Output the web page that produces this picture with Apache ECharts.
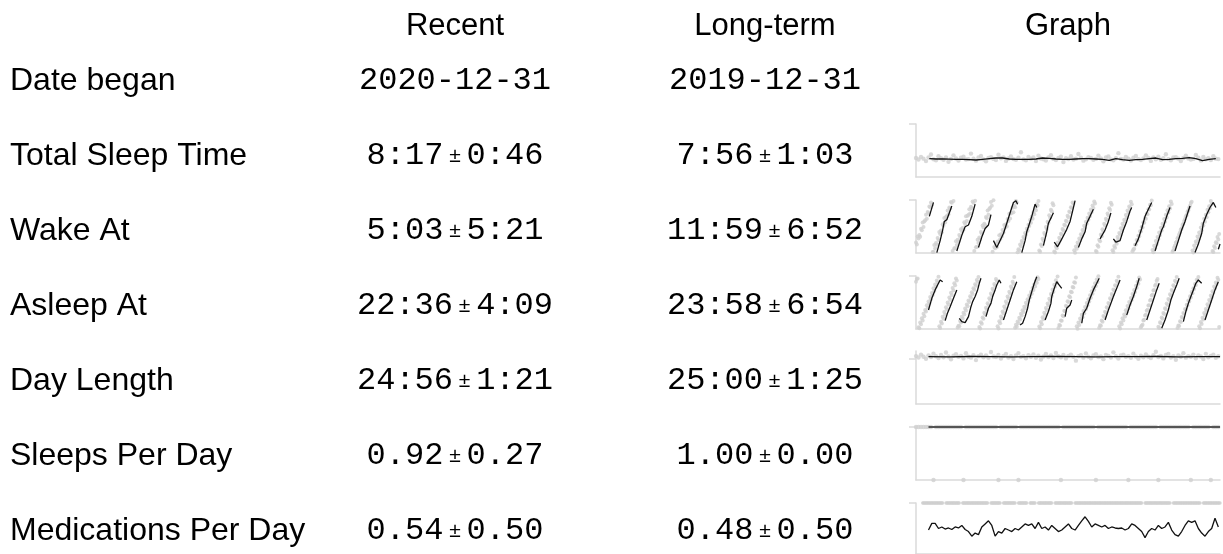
<!DOCTYPE html>
<html>
<head>
<meta charset="utf-8">
<title>Sleep summary</title>
<script src="https://cdn.jsdelivr.net/npm/echarts@6/dist/echarts.min.js"></script>
<style>
  html, body { margin: 0; padding: 0; background: #fff; }
  #chart { width: 1223px; height: 554px; }
</style>
</head>
<body>
<div id="chart"></div>
<script>
// table text
const columnTitles = ['Recent', 'Long-term', 'Graph'];
const rowLabels = ['Date began', 'Total Sleep Time', 'Wake At', 'Asleep At', 'Day Length', 'Sleeps Per Day', 'Medications Per Day'];
const recentMean = ['2020-12-31', '8:17', '5:03', '22:36', '24:56', '0.92', '0.54'];
const recentSpread = [null, '0:46', '5:21', '4:09', '1:21', '0.27', '0.50'];
const longMean = ['2019-12-31', '7:56', '11:59', '23:58', '25:00', '1.00', '0.48'];
const longSpread = [null, '1:03', '6:52', '6:54', '1:25', '0.00', '0.50'];

// sparkline data, x = day of the year shown (0..365)
const dayCount = 365;
const dotStep = 3; // sleep time / day length / sleeps: one dot every 3 days

const sleepHours = [
  8.6, 7.9, 9.1, 8.3, 7.2, 8.8, 10.2, 8.0, 7.6, 9.4,
  8.5, 7.8, 8.9, 6.9, 8.2, 9.8, 8.4, 7.5, 8.7, 9.2,
  7.9, 8.1, 10.6, 8.3, 7.4, 8.8, 9.5, 8.0, 7.1, 8.6,
  9.0, 8.2, 7.7, 10.1, 8.5, 8.9, 7.3, 8.4, 9.3, 8.1,
  7.8, 8.7, 11.2, 8.0, 7.6, 9.1, 8.3, 8.8, 7.2, 9.6,
  8.4, 8.0, 7.5, 8.9, 9.9, 8.2, 7.7, 8.6, 9.2, 6.8,
  8.5, 8.1, 9.4, 7.9, 8.3, 10.4, 8.7, 7.4, 8.0, 9.0,
  8.6, 7.8, 8.2, 9.7, 8.4, 7.1, 8.8, 9.3, 8.0, 7.6,
  8.5, 10.8, 8.2, 7.9, 9.1, 8.3, 7.5, 8.7, 9.5, 8.1,
  7.7, 8.4, 9.8, 8.6, 7.3, 8.9, 8.0, 9.2, 7.8, 8.5,
  10.3, 8.1, 7.6, 8.8, 9.0, 8.3, 7.2, 8.6, 9.6, 8.4,
  7.9, 8.2, 10.0, 8.7, 7.5, 9.1, 8.0, 8.5, 7.7, 9.4,
  8.3, 8.1
];
const sleepTrendStart = 16, sleepTrendStep = 8;
const sleepTrend = [
  8.3, 8.15, 8.15, 8.08, 8.0, 8.0, 7.85, 7.7, 8.0, 8.3, 8.6,
  8.6, 8.15, 8.0, 8.0, 8.0, 8.15, 8.6, 8.45, 8.15, 8.0, 8.0,
  8.15, 8.3, 8.3, 8.15, 8.0, 7.55, 8.3, 7.85, 7.55, 7.85, 8.0,
  8.3, 8.6, 7.85, 8.0, 8.3, 8.45, 8.75, 8.3, 7.4, 8.0, 8.3
];

// wake time, one value per day (day 0..364)
const wakeHours = [
  4.8, 3.9, 7.5, 6.6, 8.2, 7.4, 11.0, 10.3, 13.8, 11.8, 14.3, 14.8, 17.3, 15.5, 18.6, 18.1, 21.1, 20.7, 22.9, 21.6,
  0.4, 0.4, 3.6, 2.0, 4.5, 3.7, 6.8, 5.9, 9.5, 8.6, 10.2, 9.4, 13.0, 12.3, 15.8, 13.8, 16.3, 16.8, 19.3, 17.5, 20.6, 20.1, 23.1, 22.7,
  0.9, 23.5, 2.2, 2.2, 5.3, 3.6, 6.0, 5.2, 8.2, 7.2, 10.7, 9.8, 11.3, 10.4, 13.9, 13.1, 16.6, 14.5, 16.9, 17.3, 19.8, 17.9, 20.9, 20.3, 23.3, 22.8,
  0.9, 23.7, 2.6, 2.7, 6.0, 4.5, 7.0, 6.3, 9.5, 8.7, 12.4, 11.6, 13.3, 12.6, 16.3, 15.7, 19.3, 17.3, 19.9, 20.5, 23.1, 21.4,
  0.6, 23.9, 2.7, 2.1, 4.1, 2.6, 5.2, 5.0, 8.0, 6.2, 8.5, 7.5, 10.4, 9.3, 12.7, 11.6, 13.0, 12.0, 15.4, 14.5, 17.8, 15.6, 17.9, 18.2, 20.5, 18.5, 21.4, 20.7, 23.5, 22.9,
  0.3, 1.7, 1.2, 3.9, 3.1, 5.4, 4.6, 7.3, 6.5, 9.1, 8.4, 11.0, 10.1, 12.8, 12.2, 14.9, 13.7, 16.4, 15.5, 18.3, 17.6, 20.2, 19.4, 22.1, 21.5, 23.6,
  1.1, 0.6, 3.9, 3.2, 6.4, 5.5, 9.1, 8.2, 11.8, 10.9, 14.2, 13.6, 17.1, 16.0, 19.6, 18.9, 22.5, 21.6,
  0.7, 0.2, 2.9, 2.1, 4.8, 4.3, 6.9, 6.1, 8.7, 8.4, 10.9, 10.2, 12.8, 12.5, 14.6, 14.3, 16.9, 16.2, 18.8, 18.5, 20.7, 20.4, 22.9, 22.3,
  1.2, 0.1, 2.9, 1.9, 4.8, 3.8, 6.6, 5.7, 8.5, 7.6, 10.4, 9.5, 12.3, 11.4, 14.1, 13.2, 16.0, 15.1, 17.9, 16.8, 19.7, 18.6, 21.5, 20.4, 23.3, 22.4,
  0.9, 0.5, 3.5, 2.8, 6.0, 5.3, 8.4, 7.6, 10.8, 9.9, 13.2, 12.4, 15.5, 14.8, 17.9, 17.1, 20.3, 19.5, 22.7, 21.9,
  1.3, 0.4, 3.2, 2.4, 5.1, 4.2, 7.3, 6.2, 9.1, 8.4, 11.2, 10.1, 13.3, 12.2, 15.1, 14.3, 17.2, 16.1, 19.3, 18.2, 21.1, 20.4, 23.2, 22.1,
  0.8, 1.6, 1.9, 3.7, 3.8, 5.9, 5.7, 7.8, 7.6, 9.9, 9.7, 11.8, 11.6, 13.9, 13.7, 15.8, 15.5, 17.9, 17.6, 19.8, 19.7, 21.9, 21.6, 23.8,
  1.4, 0.3, 3.3, 2.2, 5.4, 4.1, 7.2, 6.3, 9.3, 8.1, 11.4, 10.2, 13.2, 12.1, 15.4, 14.2, 17.3, 16.1, 19.4, 18.3, 21.2, 20.1, 23.3, 22.2,
  0.6, 1.2, 2.5, 3.4, 4.6, 5.2, 6.7, 7.3, 8.5, 9.4, 10.6, 11.2, 12.7, 13.3, 14.5, 15.4, 16.6, 17.2, 18.7, 19.3, 20.5, 21.4, 22.6, 23.2,
  1.1, 0.2, 3.4, 2.1, 5.2, 4.4, 7.5, 6.2, 9.3, 8.1, 11.6, 10.3, 13.2, 12.4, 15.5, 14.1, 17.3, 16.2, 19.6, 18.4, 21.2, 20.3, 23.5, 22.1,
  0.9, 0.4, 3.1, 2.3, 4.9, 4.4, 7.2, 6.1, 8.6
];
// rolling mean of wake time, one list of [day, hour] per unwrapped stretch
const wakeTrend = [
  [[16, 16.6], [21, 22.9]],
  [[25, 0.2], [29, 5.6], [32, 10.4], [34, 14.3], [37, 15.1], [43, 21.3]],
  [[49, 0.9], [55, 8.0], [59, 11.9], [63, 12.7], [67, 16.6], [71, 22.1]],
  [[75, 2.5], [79, 7.2], [83, 11.1], [87, 12.7], [90, 17.4]],
  [[93, 5.6], [97, 2.5], [105, 8.8], [109, 13.5], [113, 18.2], [117, 22.9], [120, 23.7], [122, 22.1]],
  [[127, 0.2], [131, 5.6], [133, 9.6], [135, 11.9], [139, 16.6], [143, 22.1], [145, 20.6]],
  [[153, 3.3], [157, 9.6], [159, 13.5], [163, 16.6], [165, 18.2]],
  [[166, 4.9], [170, 2.8], [174, 5.6], [178, 8.5], [181, 10.7], [185, 14.3], [188, 19.0], [191, 23.7]],
  [[195, 2.5], [199, 6.4], [203, 9.6], [205, 13.5], [209, 16.6], [213, 19.8]],
  [[221, 6.4], [227, 10.4], [231, 14.3], [234, 18.2]],
  [[237, 6.4], [240, 4.9], [245, 5.6], [249, 10.4], [253, 14.3], [257, 19.0], [259, 20.6]],
  [[263, 3.3], [267, 6.4], [271, 11.1], [275, 16.6], [279, 19.8], [283, 22.9]],
  [[287, 0.9], [291, 5.6], [295, 10.4], [297, 11.9], [301, 16.6], [305, 20.6]],
  [[311, 0.9], [315, 5.6], [319, 10.4], [323, 14.3], [327, 19.0], [329, 21.3]],
  [[335, 0.2], [339, 4.1], [343, 8.8], [345, 13.5], [349, 17.4], [353, 20.6], [357, 22.9], [360, 20.6]],
  [[363, 1.7], [365, 4.1]]
];

// time fallen asleep, one value per day (day 0..364)
const asleepHours = [
  21.4, 22.6, 22.9,
  0.8, 0.3, 2.9, 2.1, 4.9, 3.9, 6.9, 5.8, 8.6, 7.9, 10.7, 9.6, 12.4, 11.6, 14.5, 13.5, 16.3, 15.4, 18.4, 17.2, 20.1, 19.3, 22.0, 21.2, 23.7,
  1.2, 0.4, 3.3, 2.5, 5.6, 4.6, 7.7, 6.6, 9.8, 8.9, 12.0, 11.1, 14.3, 13.2, 16.4, 15.4, 18.6, 17.4, 20.7, 19.8, 22.9, 22.0,
  0.7, 1.5, 1.2, 3.6, 3.0, 5.5, 4.7, 7.4, 6.6, 9.3, 8.4, 11.1, 10.3, 12.9, 12.2, 14.8, 14.1, 16.6, 15.9, 18.5, 17.8, 20.3, 19.6, 22.2, 21.4, 23.6,
  0.9, 0.2, 3.1, 2.4, 5.2, 4.6, 7.4, 6.7, 9.6, 8.8, 11.7, 11.0, 13.9, 13.1, 16.1, 15.3, 18.2, 17.5, 20.4, 19.6, 22.6, 21.8,
  1.3, 0.2, 3.5, 2.6, 5.7, 4.8, 7.9, 7.1, 10.2, 9.3, 12.4, 11.6, 14.7, 13.8, 16.9, 16.1, 19.2, 18.3, 21.4, 20.5, 23.6,
  0.6, 1.9, 1.0, 3.4, 2.6, 5.1, 4.3, 6.9, 6.1, 8.5, 7.7, 10.1, 9.4, 11.9, 11.0, 13.5, 12.7, 15.2, 14.4, 16.8, 16.0, 18.6, 17.7, 20.1, 19.3, 21.8, 20.9, 23.4, 22.6,
  1.1, 0.3, 3.2, 2.2, 5.3, 4.4, 7.4, 6.4, 9.5, 8.6, 11.6, 10.7, 13.7, 12.8, 15.8, 14.9, 17.9, 16.9, 20.0, 19.1, 22.1, 21.0, 23.8,
  0.4, 1.8, 1.6, 3.9, 3.7, 6.1, 5.8, 8.3, 8.0, 10.5, 10.1, 12.6, 12.2, 14.8, 14.4, 16.9, 16.6, 19.0, 18.8, 21.2, 20.9, 23.3,
  1.2, 0.1, 2.9, 1.8, 4.7, 3.6, 6.4, 5.3, 8.2, 7.1, 10.0, 8.9, 11.8, 10.7, 13.5, 12.4, 15.3, 14.2, 17.1, 16.0, 18.9, 17.8, 20.7, 19.5, 22.4, 21.3, 23.9,
  0.6, 1.7, 1.5, 3.8, 3.3, 5.9, 5.4, 7.8, 7.3, 9.9, 9.5, 11.8, 11.3, 13.9, 13.4, 15.8, 15.3, 17.9, 17.4, 19.8, 19.5, 21.9, 21.3, 23.7,
  1.3, 0.2, 3.0, 2.1, 4.9, 3.8, 6.6, 5.7, 8.5, 7.6, 10.4, 9.3, 12.2, 11.3, 14.0, 13.1, 15.9, 15.0, 17.7, 16.8, 19.6, 18.7, 21.4, 20.5, 23.3, 22.4,
  0.8, 1.5, 1.9, 3.8, 4.2, 6.1, 6.4, 8.3, 8.7, 10.6, 10.8, 12.9, 13.3, 15.2, 15.5, 17.4, 17.7, 19.6, 20.1, 21.9, 22.6,
  1.0, 0.5, 3.1, 2.6, 5.2, 4.6, 7.3, 6.8, 9.4, 8.9, 11.5, 10.9, 13.6, 13.1, 15.7, 15.1, 17.7, 17.2, 19.8, 19.3, 21.9, 21.4, 23.5,
  0.5, 1.6, 1.4, 3.5, 3.2, 5.4, 5.1, 7.3, 6.9, 9.1, 8.8, 11.0, 10.6, 12.9, 12.5, 14.8, 14.3, 16.7, 16.2, 18.5, 18.1, 20.4, 19.9, 22.3, 21.8, 23.6,
  1.2, 0.3, 3.2, 2.3, 5.1, 4.3, 7.2, 6.3, 9.1, 8.4, 11.2, 10.3, 13.1, 12.4, 15.2, 14.3, 17.1, 16.4, 19.2, 18.3, 21.1, 20.4, 23.2, 22.3,
  0.9
];
const asleepTrend = [
  [[15, 8.6], [19, 13.9], [23, 17.7], [27, 20.7], [29, 22.2], [32, 21.4]],
  [[35, 3.8], [38, 7.4], [41, 10.1], [45, 13.9], [49, 17.7]],
  [[52, 4.8], [55, 3.3], [59, 2.9], [63, 5.6], [66, 10.1], [68, 12.4], [71, 14.7], [74, 17.7], [76, 20.7], [78, 23.0]],
  [[84, 5.6], [87, 9.4], [90, 11.6], [92, 14.7], [95, 17.7], [97, 19.9], [100, 22.2], [102, 20.7]],
  [[105, 4.1], [109, 8.6], [113, 13.1], [117, 17.7], [121, 21.4]],
  [[125, 1.8], [128, 2.6], [131, 5.6], [134, 9.4], [136, 13.1], [139, 16.9], [142, 20.7], [145, 23.7]],
  [[155, 4.1], [159, 7.9], [162, 11.6], [163, 14.7], [166, 18.4], [169, 21.4], [172, 19.9], [175, 18.4]],
  [[179, 5.6], [181, 9.4], [185, 10.9], [187, 13.1]],
  [[199, 2.6], [201, 7.1], [205, 9.4], [209, 13.9], [213, 17.7], [217, 20.7], [220, 23.0]],
  [[227, 4.1], [231, 8.6], [234, 11.6], [237, 14.7], [241, 18.4], [245, 22.2]],
  [[253, 6.3], [257, 10.9], [261, 14.7], [265, 19.2], [268, 23.0]],
  [[277, 4.1], [281, 8.6], [285, 13.1], [289, 17.7], [292, 20.7]],
  [[295, 0.3], [299, 4.1], [303, 8.6], [306, 13.1], [309, 16.2], [313, 19.9], [316, 23.0]],
  [[321, 3.3], [324, 7.9], [327, 11.6], [330, 14.7], [333, 17.7], [336, 20.7], [339, 22.2], [343, 20.7]],
  [[347, 4.1], [351, 8.6], [355, 13.1], [359, 17.7], [363, 21.4]]
];

const dayLengthHours = [
  25.3, 24.6, 26.1, 25.0, 23.9, 25.7, 24.8, 26.6, 25.2, 24.3,
  25.9, 24.7, 27.2, 25.1, 23.6, 25.5, 26.3, 24.9, 25.4, 24.1,
  26.8, 25.0, 24.5, 25.8, 23.2, 25.3, 26.0, 24.7, 25.6, 24.4,
  27.5, 25.1, 24.8, 25.9, 24.0, 25.4, 26.4, 24.6, 25.2, 23.8,
  25.7, 26.9, 24.9, 25.3, 24.2, 25.8, 25.0, 26.2, 24.4, 25.5,
  23.5, 25.1, 26.5, 24.8, 25.6, 24.3, 27.0, 25.2, 24.7, 25.9,
  24.1, 25.4, 26.1, 24.9, 22.9, 25.3, 25.8, 24.5, 26.7, 25.0,
  24.2, 25.6, 26.3, 24.8, 25.1, 23.7, 25.9, 25.4, 24.6, 27.3,
  25.2, 24.0, 25.7, 26.0, 24.9, 25.3, 24.4, 26.6, 25.1, 23.9,
  25.5, 24.7, 26.2, 25.0, 24.3, 25.8, 27.6, 24.8, 25.4, 24.1,
  25.9, 26.4, 24.6, 25.2, 23.4, 25.6, 25.0, 26.8, 24.5, 25.3,
  24.9, 26.1, 24.2, 25.7, 25.1, 23.8, 26.5, 24.7, 25.4, 26.0,
  24.4, 25.2
];
const flatTrendStart = 15, flatTrendStep = 25;
const dayLengthTrend = [25.0, 24.9, 25.1, 25.0, 24.9, 25.0, 25.1, 25.0, 24.9, 25.0, 25.0, 25.1, 24.9, 25.0, 25.0];

const sleepsPerDay = [
  1, 1, 1, 1, 1, 1, 1, 0, 1, 1, 1, 1, 1, 1, 1, 1, 1, 1, 1, 0,
  1, 1, 1, 1, 1, 1, 1, 1, 1, 1, 1, 1, 1, 0, 1, 1, 1, 1, 1, 1,
  1, 0, 1, 1, 1, 1, 1, 1, 1, 1, 1, 1, 1, 1, 1, 1, 1, 1, 0, 1,
  1, 1, 1, 1, 1, 1, 1, 1, 1, 1, 1, 1, 0, 1, 1, 1, 1, 1, 1, 1,
  1, 1, 1, 1, 1, 0, 1, 1, 1, 1, 1, 1, 1, 1, 1, 1, 1, 0, 1, 1,
  1, 1, 1, 1, 1, 1, 1, 1, 1, 1, 0, 1, 1, 1, 1, 1, 1, 1, 0, 1,
  1, 1
];
const sleepsTrend = [1, 1, 1, 1, 1, 1, 1, 1, 1, 1, 1, 1, 1, 1, 1];

// day ranges on which a medication was taken (value 1)
const medTakenRuns = [
  [8, 32], [36, 52], [56, 86], [90, 101], [105, 119], [123, 133], [137, 143],
  [147, 163], [167, 187], [191, 271], [275, 305], [309, 341], [345, 365]
];
const medTrendStart = 15, medTrendStep = 4;
const medTrend = [
  0.47, 0.6, 0.6, 0.5, 0.53, 0.49, 0.51, 0.48, 0.53, 0.51,
  0.56, 0.48, 0.44, 0.35, 0.41, 0.38, 0.53, 0.59, 0.65, 0.56,
  0.35, 0.44, 0.41, 0.5, 0.47, 0.44, 0.5, 0.47, 0.53, 0.59,
  0.56, 0.59, 0.5, 0.62, 0.5, 0.53, 0.47, 0.56, 0.5, 0.44,
  0.47, 0.53, 0.59, 0.5, 0.47, 0.56, 0.65, 0.73, 0.64, 0.53,
  0.59, 0.56, 0.53, 0.56, 0.5, 0.53, 0.51, 0.5, 0.51, 0.47,
  0.5, 0.59, 0.56, 0.5, 0.44, 0.32, 0.44, 0.5, 0.47, 0.56,
  0.5, 0.53, 0.62, 0.47, 0.38, 0.35, 0.44, 0.56, 0.65, 0.62,
  0.65, 0.5, 0.41, 0.35, 0.44, 0.5, 0.7, 0.53
];

// ---------- layout ----------
const headerFont = '31px "Liberation Sans", Arial, sans-serif';
const labelFont = '32px "Liberation Sans", Arial, sans-serif';
const numFont = '32px "Liberation Mono", "Courier New", monospace';
const pmFont = '21px "Liberation Sans", Arial, sans-serif';
const colX = [455, 765, 1068];
const headerY = 26;
const rowY = [81, 156, 231, 306, 381, 456, 531];
const gridLeft = 916, gridWidth = 304;
const gridTops = [124, 200, 276, 351, 427, 503];
const gridHeight = 53;
const axisGrey = '#dadada';
const dotGrey = '#cfcfcf';

function toPoints(values, start, step) {
  return values.map((v, i) => [start + i * step, v]);
}
function runsToPoints(runs) {
  const pts = [];
  runs.forEach(r => { for (let d = r[0]; d <= r[1]; d++) pts.push([d, 1]); });
  return pts;
}

const sparkRows = [
  { dots: toPoints(sleepHours, 0, dotStep), size: 4.4, trends: [toPoints(sleepTrend, sleepTrendStart, sleepTrendStep)], max: 24, tick: 24 },
  { dots: toPoints(wakeHours, 0, 1), size: 4, trends: wakeTrend, max: 24, tick: 24 },
  { dots: toPoints(asleepHours, 0, 1), size: 4, trends: asleepTrend, max: 24, tick: 24 },
  { dots: toPoints(dayLengthHours, 0, dotStep), size: 4.4, trends: [toPoints(dayLengthTrend, flatTrendStart, flatTrendStep)], max: 28, tick: 24 },
  { dots: toPoints(sleepsPerDay, 0, dotStep), size: 4.4, trends: [toPoints(sleepsTrend, flatTrendStart, flatTrendStep)], max: 1, tick: 1, trendColor: '#555', trendWidth: 2 },
  { dots: runsToPoints(medTakenRuns), size: 3.4, trends: [toPoints(medTrend, medTrendStart, medTrendStep)], max: 1, tick: 1 }
];

const grid = [], xAxis = [], yAxis = [], series = [];
sparkRows.forEach((row, i) => {
  grid.push({ left: gridLeft, top: gridTops[i], width: gridWidth, height: gridHeight });
  xAxis.push({
    gridIndex: i, type: 'value', min: 0, max: dayCount,
    axisLine: { show: true, lineStyle: { color: axisGrey, width: 1.5 } },
    axisTick: { show: false }, axisLabel: { show: false }, splitLine: { show: false }
  });
  yAxis.push({
    gridIndex: i, type: 'value', min: 0, max: row.max,
    axisLine: { show: true, lineStyle: { color: axisGrey, width: 1.5 } },
    axisTick: { show: true, length: 7, customValues: [row.tick], lineStyle: { color: axisGrey, width: 1.5 } },
    axisLabel: { show: false }, splitLine: { show: false }
  });
  series.push({
    type: 'scatter', xAxisIndex: i, yAxisIndex: i, data: row.dots,
    symbolSize: row.size, itemStyle: { color: dotGrey }, silent: true, z: 2
  });
  row.trends.forEach(seg => {
    series.push({
      type: 'line', xAxisIndex: i, yAxisIndex: i, data: seg,
      showSymbol: false, symbol: 'none', silent: true, z: 3,
      lineStyle: { color: row.trendColor || '#111', width: row.trendWidth || 1.3 }
    });
  });
});

// table text as graphic elements
const graphic = [];
columnTitles.forEach((t, i) => {
  graphic.push({ type: 'text', x: colX[i], y: headerY,
    style: { text: t, font: headerFont, fill: '#000', textAlign: 'center', textVerticalAlign: 'middle' } });
});
const rich = {
  v: { font: numFont, fill: '#000' },
  pm: { font: pmFont, fill: '#000' }
};
function cellText(mean, spread) {
  return spread ? '{v|' + mean + '}{pm| ± }{v|' + spread + '}' : '{v|' + mean + '}';
}
rowLabels.forEach((label, r) => {
  graphic.push({ type: 'text', x: 10, y: rowY[r],
    style: { text: label, font: labelFont, fill: '#000', textAlign: 'left', textVerticalAlign: 'middle' } });
  graphic.push({ type: 'text', x: colX[0], y: rowY[r],
    style: { text: cellText(recentMean[r], recentSpread[r]), rich: rich, textAlign: 'center', textVerticalAlign: 'middle' } });
  graphic.push({ type: 'text', x: colX[1], y: rowY[r],
    style: { text: cellText(longMean[r], longSpread[r]), rich: rich, textAlign: 'center', textVerticalAlign: 'middle' } });
});

const chart = echarts.init(document.getElementById('chart'), null, { renderer: 'canvas' });
chart.setOption({
  animation: false,
  backgroundColor: '#fff',
  grid: grid,
  xAxis: xAxis,
  yAxis: yAxis,
  series: series,
  graphic: graphic
});
</script>
</body>
</html>
